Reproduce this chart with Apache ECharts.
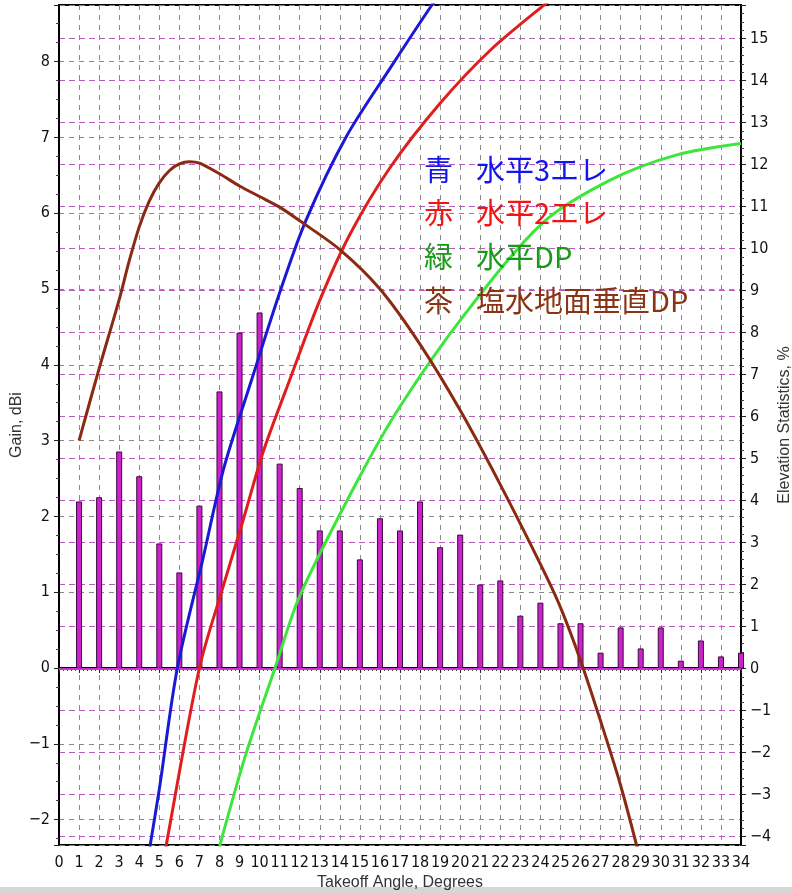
<!DOCTYPE html>
<html><head><meta charset="utf-8">
<script src="https://cdn.jsdelivr.net/npm/echarts@6/dist/echarts.min.js"></script>
<style>html,body{margin:0;padding:0;background:#fff}#c{width:792px;height:893px}</style>
</head><body><div id="c"></div>
<script>
// ---- data ----
const barAngles = [1,2,3,4,5,6,7,8,9,10,11,12,13,14,15,16,17,18,19,20,21,22,23,24,25,26,27,28,29,30,31,32,33,34];
const elevStats = [3.98,4.08,5.17,4.58,2.98,2.29,3.88,6.6,8.0,8.48,4.88,4.3,3.29,3.29,2.6,3.58,3.29,3.98,2.89,3.19,2.0,2.1,1.26,1.57,1.08,1.08,0.38,0.98,0.48,0.98,0.19,0.67,0.29,0.38];

const blueAngle = [4.3,4.55,5.0,5.9,7.2,8.2,9.6,11.0,12.3,14.3,16.6,18.6,19.2];
const blueGain  = [-2.75,-2.33,-1.6,0.0,1.47,2.62,3.8,4.95,5.9,7.0,7.95,8.75,8.95];

const redAngle = [5.1,5.35,7.0,8.19,9.19,10.19,11.5,13.0,14.5,16.5,19.0,21.5,24.2,25.0];
const redGain  = [-2.7,-2.33,0.0,1.08,1.96,2.86,3.8,4.85,5.72,6.6,7.45,8.15,8.75,8.9];

const greenAngle = [7.8,8.03,9.3,10.77,12.0,14.9,17.0,20.15,24.1,27.5,30.8,34.0];
const greenGain  = [-2.6,-2.33,-1.15,0.0,0.95,2.48,3.45,4.64,5.87,6.44,6.77,6.92];

const brownAngle = [1,2,3,3.5,4,4.5,5,5.5,6,6.5,7,8,9,10,11,12,14,16,18,20,22,24,25,26,27,28,29];
const brownGain  = [3.0,3.95,4.86,5.37,5.82,6.16,6.4,6.56,6.65,6.68,6.66,6.52,6.36,6.22,6.08,5.9,5.52,5.0,4.27,3.4,2.42,1.37,0.8,0.1,-0.7,-1.55,-2.55];

const legendPrefix = ['青','赤','緑','茶'];
const legendLabels = ['水平3エレ','水平2エレ','水平DP','塩水地面垂直DP'];
const legendColors = ['#1414f0','#f51414','#199a19','#8a3414'];

const xName = 'Takeoff Angle, Degrees';
const yLeftName = 'Gain, dBi';
const yRightName = 'Elevation Statistics, %';

// ---- build ----
const zip = (a, b) => a.map((v, i) => [v, b[i]]);
const tickFont = "'Liberation Sans Narrow','DejaVu Sans Condensed','Liberation Sans',sans-serif";
const nameFont = "'Liberation Sans','Arial',sans-serif";
const minusFmt = v => String(Math.round(v * 100) / 100).replace('-', '\u2212');

const chart = echarts.init(document.getElementById('c'), null, {renderer: 'canvas'});

const lineSeries = (name, data, color) => ({
  name, type: 'line', data, yAxisIndex: 0, smooth: 0.3, showSymbol: false,
  clip: true, z: 5, lineStyle: {color, width: 3}, itemStyle: {color}
});

const graphics = [];
legendPrefix.forEach((p, i) => {
  const y = 171 + i * 43.7;
  graphics.push({type: 'text', left: 424, top: y - 16, z: 20,
    style: {text: p, fill: legendColors[i], font: "29px 'Noto Sans CJK JP'"}});
  graphics.push({type: 'text', left: 476, top: y - 16, z: 20,
    style: {text: legendLabels[i], fill: legendColors[i], font: "29px 'Noto Sans CJK JP'"}});
});
graphics.push({type: 'rect', shape: {x: 0, y: 887, width: 792, height: 6}, style: {fill: '#d6d6d6'}, z: 0});

chart.setOption({
  animation: false,
  backgroundColor: '#fff',
  grid: {left: 59, right: 51, top: 5, bottom: 48, containLabel: false, outerBoundsMode: 'none',
    show: true, borderColor: '#000', borderWidth: 2, backgroundColor: 'transparent'},
  xAxis: {
    type: 'value', min: 0, max: 34, interval: 1,
    name: xName, nameLocation: 'middle', nameGap: 30, nameMoveOverlap: false,
    nameTextStyle: {fontFamily: nameFont, fontSize: 16, color: '#333'},
    axisLine: {lineStyle: {color: '#000', width: 2}},
    axisTick: {length: 5, lineStyle: {color: '#222'}},
    minorTick: {show: true, splitNumber: 5, length: 3, lineStyle: {color: '#444'}},
    axisLabel: {fontFamily: tickFont, fontSize: 16, color: '#111', margin: 10, formatter: minusFmt},
    splitLine: {show: true, lineStyle: {color: '#8a8a8a', type: [5, 5], width: 1}}
  },
  yAxis: [{
    type: 'value', position: 'left', min: -2.335, max: 8.747, splitNumber: 11,
    name: yLeftName, nameLocation: 'middle', nameGap: 34, nameMoveOverlap: false,
    nameTextStyle: {fontFamily: nameFont, fontSize: 16, color: '#333'},
    axisLine: {show: true, lineStyle: {color: '#000', width: 2}},
    axisTick: {show: true, length: 5, lineStyle: {color: '#222'}},
    minorTick: {show: true, splitNumber: 4, length: 3, lineStyle: {color: '#444'}},
    axisLabel: {fontFamily: tickFont, fontSize: 16, color: '#111', margin: 9, showMinLabel: false, showMaxLabel: false, formatter: minusFmt},
    splitLine: {show: true, lineStyle: {color: '#8a8a8a', type: [5, 5], width: 1}}
  }, {
    type: 'value', position: 'right', min: -4.2, max: 15.8, splitNumber: 20,
    name: yRightName, nameLocation: 'middle', nameGap: 36, nameMoveOverlap: false,
    nameTextStyle: {fontFamily: nameFont, fontSize: 16, color: '#333'},
    axisLine: {show: true, lineStyle: {color: '#000', width: 2}},
    axisTick: {show: true, length: 5, lineStyle: {color: '#222'}},
    minorTick: {show: true, splitNumber: 5, length: 3, lineStyle: {color: '#444'}},
    axisLabel: {fontFamily: tickFont, fontSize: 16, color: '#111', margin: 9, showMinLabel: false, showMaxLabel: false, formatter: minusFmt},
    splitLine: {show: true, lineStyle: {color: '#b85cc0', type: [6, 4], width: 1.2}}
  }],
  series: [{
    name: 'Elevation Statistics', type: 'bar', yAxisIndex: 1, barWidth: 6, z: 2,
    data: zip(barAngles, elevStats),
    itemStyle: {color: '#cc22cc', borderColor: '#3a0a3a', borderWidth: 1},
    markLine: {silent: true, symbol: 'none', label: {show: false},
      lineStyle: {color: '#cc33cc', type: 'solid', width: 2}, data: [{yAxis: 0}]}
  },
    lineSeries(legendLabels[0], zip(blueAngle, blueGain), '#1a1ad6'),
    lineSeries(legendLabels[1], zip(redAngle, redGain), '#e01e1e'),
    lineSeries(legendLabels[2], zip(greenAngle, greenGain), '#3ce63c'),
    lineSeries(legendLabels[3], zip(brownAngle, brownGain), '#8b2a12')
  ],
  graphic: graphics
});
</script></body></html>
